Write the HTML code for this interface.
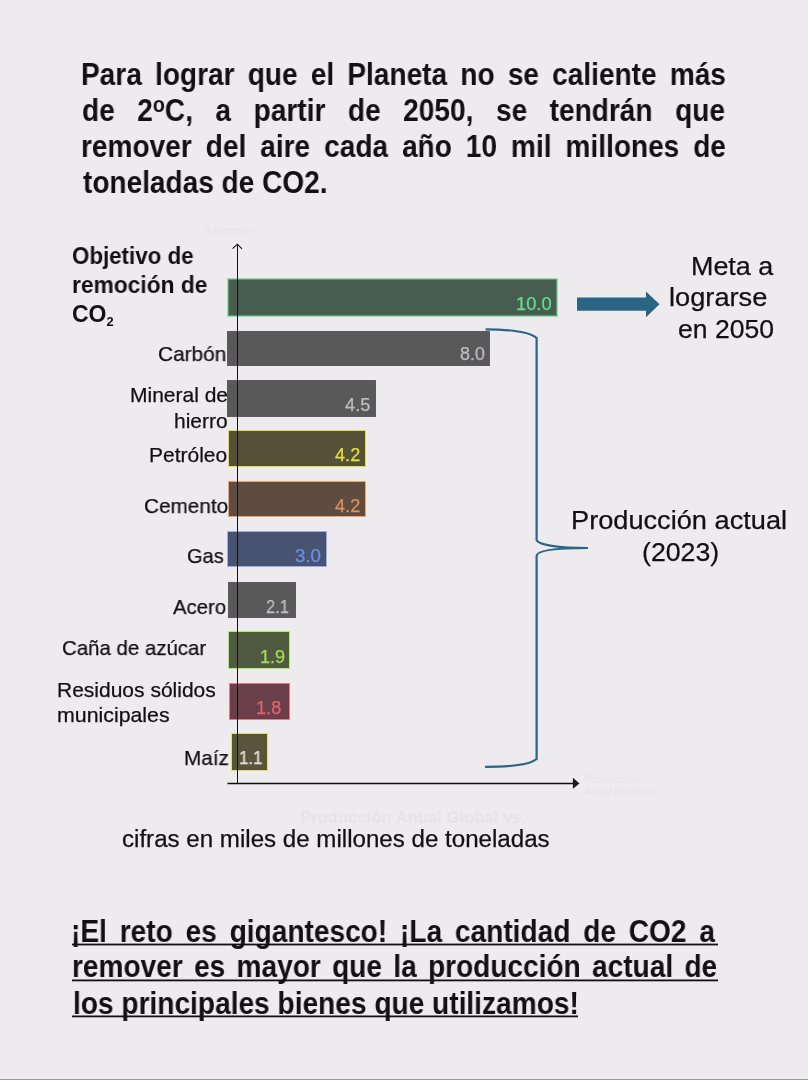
<!DOCTYPE html><html><head><meta charset="utf-8"><style>
html,body{margin:0;padding:0;}
body{width:808px;height:1080px;background:#EDEBEE;position:relative;overflow:hidden;font-family:'Liberation Sans', sans-serif;}
.t{position:absolute;white-space:nowrap;transform-origin:0 0;will-change:transform;}
.j{white-space:normal;text-align:justify;text-align-last:justify;}
</style></head><body>
<div style="position:absolute;left:227.3px;top:278.0px;width:330.30px;height:39.10px;box-sizing:border-box;background:#465D4F;border:1.6px solid #98DEB0;box-shadow:inset 0 0 0 0.8px #6AAA80;"></div>
<div style="position:absolute;left:227px;top:330.6px;width:263.10px;height:35.30px;box-sizing:border-box;background:#59595A;border:1px solid #5C5B5E;"></div>
<div style="position:absolute;left:227px;top:380.4px;width:148.60px;height:36.70px;box-sizing:border-box;background:#59595A;border:1px solid #5C5B5E;"></div>
<div style="position:absolute;left:227.5px;top:430.4px;width:138.30px;height:37.10px;box-sizing:border-box;background:#535239;border:1.4px solid #E4DA54;box-shadow:inset 0 0 0 0.8px #5A5616;"></div>
<div style="position:absolute;left:227.5px;top:481.1px;width:138.30px;height:36.30px;box-sizing:border-box;background:#5E4C41;border:1.4px solid #E8A678;box-shadow:inset 0 0 0 0.8px #74482A;"></div>
<div style="position:absolute;left:227px;top:530.6px;width:100.20px;height:36.90px;box-sizing:border-box;background:#485372;border:1.4px solid #9AB2EA;box-shadow:inset 0 0 0 0.8px #44507A;"></div>
<div style="position:absolute;left:227.8px;top:581.6px;width:68.40px;height:36.40px;box-sizing:border-box;background:#59595A;border:1px solid #5C5B5E;"></div>
<div style="position:absolute;left:227.7px;top:631.1px;width:62.10px;height:37.80px;box-sizing:border-box;background:#505A40;border:1.4px solid #B4E27E;box-shadow:inset 0 0 0 0.8px #466A22;"></div>
<div style="position:absolute;left:229.2px;top:683.4px;width:60.90px;height:37.00px;box-sizing:border-box;background:#694049;border:1.4px solid #DC8090;box-shadow:inset 0 0 0 0.8px #7E3244;"></div>
<div style="position:absolute;left:231.1px;top:732.6px;width:36.80px;height:38.50px;box-sizing:border-box;background:#57563C;border:1.4px solid #E4DC7C;box-shadow:inset 0 0 0 0.8px #5A5622;"></div>
<svg width="808" height="1080" style="position:absolute;left:0;top:0">
<line x1="237.5" y1="244.5" x2="237.5" y2="784" stroke="#111" stroke-width="1"/>
<polyline points="232.6,248.6 237.4,244.2 242,248.8" fill="none" stroke="#111" stroke-width="1.1"/>
<line x1="227.4" y1="783.5" x2="574" y2="783.5" stroke="#111" stroke-width="1.3"/>
<polygon points="572.9,777.7 579.5,783.4 572.9,788.8" fill="#1A1A1A"/>
<polygon points="577,297.5 646,297.5 646,291.5 659.5,304.2 646,317.2 646,310.8 577,310.8" fill="#2A6584"/>
<path d="M485.5,329.3 C510,329.5 530,332 536.6,338 L536.6,539.5 C536.6,545 560,548 588,548 C560,548 536.6,550 536.6,556 L536.6,759 C530,765 510,766.8 485.1,766.8" fill="none" stroke="#2B6484" stroke-width="2.2"/>
<rect x="72" y="943.6" width="646" height="1.8" fill="#111013"/>
<rect x="72" y="979.5" width="646" height="1.8" fill="#111013"/>
<rect x="72" y="1015.5" width="506" height="1.8" fill="#111013"/>
<line x1="0" y1="1079.5" x2="808" y2="1079.5" stroke="#9A999C" stroke-width="1"/>
</svg>
<div class="t j" id="t0" style="font-size:30.5px;font-weight:700;color:#111013;line-height:30.5px;left:81.00px;top:59.01px;width:701.09px;height:30.5px;transform:scaleX(0.9200)">Para lograr que el Planeta no se caliente más</div>
<div class="t j" id="t1" style="font-size:30.5px;font-weight:700;color:#111013;line-height:30.5px;left:82.00px;top:90.48px;width:698.91px;height:30.5px;transform:scaleX(0.9200)">de 2<span style="font-size:0.7em;vertical-align:0.4em">o</span>C, a partir de 2050, se tendrán que</div>
<div class="t j" id="t2" style="font-size:30.5px;font-weight:700;color:#111013;line-height:30.5px;left:81.00px;top:130.60px;width:701.09px;height:30.5px;transform:scaleX(0.9200)">remover del aire cada año 10 mil millones de</div>
<div class="t" id="t3" style="font-size:30.5px;font-weight:700;color:#111013;line-height:30.5px;left:83.04px;top:166.51px;transform:scaleX(0.9186)">toneladas de CO2.</div>
<div class="t" id="t4" style="font-size:23px;font-weight:700;color:#111013;line-height:23px;left:72.03px;top:244.71px;transform:scaleX(0.9702)">Objetivo de</div>
<div class="t" id="t5" style="font-size:23px;font-weight:700;color:#111013;line-height:23px;left:71.82px;top:273.81px;transform:scaleX(0.9896)">remoción de</div>
<div class="t" id="t6" style="font-size:23px;font-weight:700;color:#111013;line-height:23px;left:71.81px;top:302.81px;transform:scaleX(0.9925)">CO<span style="font-size:0.56em;vertical-align:-0.3em">2</span></div>
<div class="t" id="t7" style="font-size:21px;font-weight:400;color:#111013;line-height:21px;-webkit-text-stroke:0.25px #111013;left:158.41px;top:343.11px;transform:scaleX(0.9912)">Carbón</div>
<div class="t" id="t8" style="font-size:21px;font-weight:400;color:#111013;line-height:21px;-webkit-text-stroke:0.25px #111013;left:129.61px;top:384.11px;transform:scaleX(0.9959)">Mineral de</div>
<div class="t" id="t9" style="font-size:21px;font-weight:400;color:#111013;line-height:21px;-webkit-text-stroke:0.25px #111013;left:173.60px;top:409.81px;transform:scaleX(0.9982)">hierro</div>
<div class="t" id="t10" style="font-size:21px;font-weight:400;color:#111013;line-height:21px;-webkit-text-stroke:0.25px #111013;left:148.80px;top:443.61px;transform:scaleX(0.9961)">Petróleo</div>
<div class="t" id="t11" style="font-size:21px;font-weight:400;color:#111013;line-height:21px;-webkit-text-stroke:0.25px #111013;left:144.01px;top:495.21px;transform:scaleX(0.9881)">Cemento</div>
<div class="t" id="t12" style="font-size:21px;font-weight:400;color:#111013;line-height:21px;-webkit-text-stroke:0.25px #111013;left:186.65px;top:544.90px;transform:scaleX(0.9541)">Gas</div>
<div class="t" id="t13" style="font-size:21px;font-weight:400;color:#111013;line-height:21px;-webkit-text-stroke:0.25px #111013;left:172.60px;top:595.90px;transform:scaleX(0.9668)">Acero</div>
<div class="t" id="t14" style="font-size:21px;font-weight:400;color:#111013;line-height:21px;-webkit-text-stroke:0.25px #111013;left:61.62px;top:637.31px;transform:scaleX(0.9728)">Caña de azúcar</div>
<div class="t" id="t15" style="font-size:21px;font-weight:400;color:#111013;line-height:21px;-webkit-text-stroke:0.25px #111013;left:56.60px;top:679.31px;transform:scaleX(0.9987)">Residuos sólidos</div>
<div class="t" id="t16" style="font-size:21px;font-weight:400;color:#111013;line-height:21px;-webkit-text-stroke:0.25px #111013;left:56.59px;top:704.11px;transform:scaleX(1.0156)">municipales</div>
<div class="t" id="t17" style="font-size:21px;font-weight:400;color:#111013;line-height:21px;-webkit-text-stroke:0.25px #111013;left:183.62px;top:746.90px;transform:scaleX(0.9864)">Maíz</div>
<div class="t" id="t18" style="font-size:26.5px;font-weight:400;color:#111013;line-height:26.5px;-webkit-text-stroke:0.25px #111013;left:690.97px;top:252.81px;transform:scaleX(1.0152)">Meta a</div>
<div class="t" id="t19" style="font-size:26.5px;font-weight:400;color:#111013;line-height:26.5px;-webkit-text-stroke:0.25px #111013;left:668.95px;top:284.11px;transform:scaleX(1.0269)">lograrse</div>
<div class="t" id="t20" style="font-size:26.5px;font-weight:400;color:#111013;line-height:26.5px;-webkit-text-stroke:0.25px #111013;left:678.00px;top:316.31px;transform:scaleX(1.0022)">en 2050</div>
<div class="t" id="t21" style="font-size:26.5px;font-weight:400;color:#111013;line-height:26.5px;-webkit-text-stroke:0.25px #111013;left:570.95px;top:506.81px;transform:scaleX(1.0256)">Producción actual</div>
<div class="t" id="t22" style="font-size:26.5px;font-weight:400;color:#111013;line-height:26.5px;-webkit-text-stroke:0.25px #111013;left:642.39px;top:538.81px;transform:scaleX(1.0082)">(2023)</div>
<div class="t" id="t23" style="font-size:23px;font-weight:400;color:#111013;line-height:23px;-webkit-text-stroke:0.25px #111013;left:121.76px;top:827.51px;transform:scaleX(1.0485)">cifras en miles de millones de toneladas</div>
<div class="t" id="t24" style="font-size:10px;font-weight:400;color:#E5E3E7;line-height:10px;left:206.90px;top:226.00px;transform:scaleX(1.0976)">Elemento</div>
<div class="t" id="t25" style="font-size:10px;font-weight:400;color:#E5E3E7;line-height:10px;left:583.83px;top:775.00px;transform:scaleX(1.1147)">Producción</div>
<div class="t" id="t26" style="font-size:10px;font-weight:400;color:#E5E3E7;line-height:10px;left:584.99px;top:787.00px;transform:scaleX(1.0224)">Anual (Gráfico)</div>
<div class="t" id="t27" style="font-size:17px;font-weight:700;color:#E5E3E7;line-height:17px;left:300.03px;top:808.71px;transform:scaleX(0.9799)">Producción Anual Global vs.</div>
<div class="t j" id="t28" style="font-size:30.5px;font-weight:700;color:#111013;line-height:30.5px;left:71.40px;top:915.72px;width:700.00px;height:30.5px;transform:scaleX(0.9200)">¡El reto es gigantesco! ¡La cantidad de CO2 a</div>
<div class="t j" id="t29" style="font-size:30.5px;font-weight:700;color:#111013;line-height:30.5px;left:72.40px;top:951.41px;width:701.30px;height:30.5px;transform:scaleX(0.9200)">remover es mayor que la producción actual de</div>
<div class="t" id="t30" style="font-size:30.5px;font-weight:700;color:#111013;line-height:30.5px;left:72.55px;top:987.51px;transform:scaleX(0.9211)">los principales bienes que utilizamos!</div>
<div class="t" id="t31" style="font-size:18px;font-weight:400;color:#66DC94;line-height:18px;-webkit-text-stroke:0.25px #66DC94;left:515.98px;top:295.01px;transform:scaleX(1.0154)">10.0</div>
<div class="t" id="t32" style="font-size:18px;font-weight:400;color:#BFBDC0;line-height:18px;-webkit-text-stroke:0.25px #BFBDC0;left:460.20px;top:344.91px;transform:scaleX(0.9922)">8.0</div>
<div class="t" id="t33" style="font-size:18px;font-weight:400;color:#BFBDC0;line-height:18px;-webkit-text-stroke:0.25px #BFBDC0;left:345.00px;top:396.20px;transform:scaleX(1.0126)">4.5</div>
<div class="t" id="t34" style="font-size:18px;font-weight:400;color:#E8DE3C;line-height:18px;-webkit-text-stroke:0.25px #E8DE3C;left:335.39px;top:445.70px;transform:scaleX(1.0088)">4.2</div>
<div class="t" id="t35" style="font-size:18px;font-weight:400;color:#E0905A;line-height:18px;-webkit-text-stroke:0.25px #E0905A;left:335.39px;top:496.91px;transform:scaleX(1.0088)">4.2</div>
<div class="t" id="t36" style="font-size:18px;font-weight:400;color:#6A90E0;line-height:18px;-webkit-text-stroke:0.25px #6A90E0;left:294.56px;top:546.81px;transform:scaleX(1.0398)">3.0</div>
<div class="t" id="t37" style="font-size:18px;font-weight:400;color:#BFBDC0;line-height:18px;-webkit-text-stroke:0.25px #BFBDC0;left:265.89px;top:598.01px;transform:scaleX(0.9179)">2.1</div>
<div class="t" id="t38" style="font-size:18px;font-weight:400;color:#A6DC58;line-height:18px;-webkit-text-stroke:0.25px #A6DC58;left:259.80px;top:648.01px;transform:scaleX(1.0000)">1.9</div>
<div class="t" id="t39" style="font-size:18px;font-weight:400;color:#E06272;line-height:18px;-webkit-text-stroke:0.25px #E06272;left:255.99px;top:699.01px;transform:scaleX(1.0092)">1.8</div>
<div class="t" id="t40" style="font-size:18px;font-weight:400;color:#E0DED8;line-height:18px;-webkit-text-stroke:0.25px #E0DED8;left:239.06px;top:748.70px;transform:scaleX(0.9353)">1.1</div>
</body></html>
